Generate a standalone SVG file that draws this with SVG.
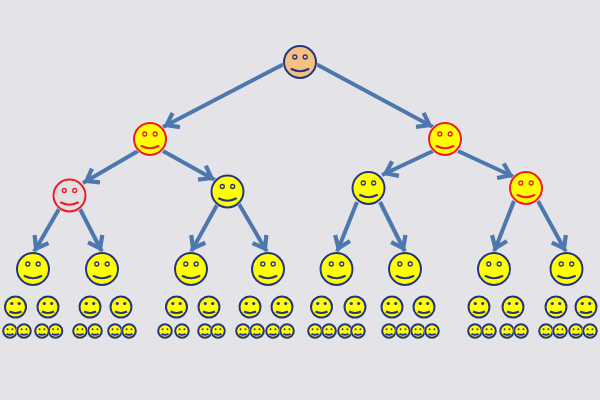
<svg xmlns="http://www.w3.org/2000/svg" width="600" height="400" viewBox="0 0 600 400">
<style>
.c{fill:none;stroke:#4c78ae;stroke-width:4}
.h{fill:#f0f0f3}
.f{fill:var(--f,#ffff00)}
.b{--s:#24367f}.r{--s:#ee1c25}
.g{--f:#e0e0e2}.o{--f:#f7c083}
.p{fill:none;stroke:var(--s);stroke-width:2}
.i{fill:none;stroke:var(--s);stroke-width:1.300}
.e{fill:var(--s)}
</style>
<defs>
<marker id="a" markerUnits="userSpaceOnUse" markerWidth="30" markerHeight="30" refX="23" refY="15" orient="auto"><path d="M8 7L19 15L8 23" fill="none" stroke="#4c78ae" stroke-width="4.200"/></marker>
<g id="face"><circle class="h" r="17.500"/><circle class="f" r="16"/><circle class="p" r="16"/><circle class="i" cx="-5.200" cy="-5" r="2"/><circle class="i" cx="5.200" cy="-5" r="2"/><path class="p" d="M-8.500 7Q0 11.500 8.500 7" stroke-linecap="round"/></g>
<g id="fs"><circle class="h" r="12"/><circle class="f" r="11"/><circle class="p" r="10.500"/><circle class="e" cx="-3.700" cy="-3.500" r="1.600"/><circle class="e" cx="3.700" cy="-3.500" r="1.600"/><path class="p" d="M-6 4.500Q0 7.500 6 4.500" stroke-width="1.300"/></g>
<g id="ft"><circle class="h" r="8"/><circle class="f" r="7"/><circle class="p" r="6.800" stroke-width="1.700"/><circle class="e" cx="-2.400" cy="-1.800" r="1"/><circle class="e" cx="2.400" cy="-1.800" r="1"/><path class="p" d="M-3.500 2.800Q0 4.800 3.500 2.800" stroke-width="1"/></g>
</defs>
<rect width="600" height="400" fill="#e4e4e8"/>
<g id="connectors" class="c">
<path d="M284 64L163 127" marker-end="url(#a)"/>
<path d="M316 64L433 127" marker-end="url(#a)"/>
<path d="M138 151L83 183" marker-end="url(#a)"/>
<path d="M163 151L215 180" marker-end="url(#a)"/>
<path d="M433 151L382 175" marker-end="url(#a)"/>
<path d="M458 151L514 177" marker-end="url(#a)"/>
<path d="M59 209L34 252" marker-end="url(#a)"/>
<path d="M80 209L102 252" marker-end="url(#a)"/>
<path d="M217 205L191 252" marker-end="url(#a)"/>
<path d="M239 204L267 252" marker-end="url(#a)"/>
<path d="M357 202L337 252" marker-end="url(#a)"/>
<path d="M380 202L405 252" marker-end="url(#a)"/>
<path d="M514 201L494 252" marker-end="url(#a)"/>
<path d="M538 201L566 252" marker-end="url(#a)"/>
</g>
<g id="root" class="b o"><use href="#face" x="300" y="62"/></g>
<g id="n1" class="r"><use href="#face" x="150" y="139"/></g>
<g id="n2" class="r"><use href="#face" x="445" y="139"/></g>
<g id="n3" class="r g"><use href="#face" x="69.500" y="195.500"/></g>
<g id="n4" class="b"><use href="#face" x="227.500" y="191.500"/></g>
<g id="n5" class="b"><use href="#face" x="368.500" y="188"/></g>
<g id="n6" class="r"><use href="#face" x="526" y="188"/></g>
<g id="l3" class="b">
<use href="#face" x="33" y="269"/><use href="#face" x="102" y="269"/><use href="#face" x="191" y="269"/><use href="#face" x="268" y="269"/><use href="#face" x="336.500" y="269"/><use href="#face" x="405" y="269"/><use href="#face" x="494" y="269"/><use href="#face" x="566.500" y="269"/>
</g>
<g id="l4" class="b">
<use href="#fs" x="15.500" y="307"/><use href="#fs" x="48" y="307"/><use href="#fs" x="90" y="307"/><use href="#fs" x="121" y="307"/><use href="#fs" x="176.500" y="307"/><use href="#fs" x="209" y="307"/><use href="#fs" x="250" y="307"/><use href="#fs" x="282" y="307"/><use href="#fs" x="321.500" y="307"/><use href="#fs" x="355" y="307"/><use href="#fs" x="392" y="307"/><use href="#fs" x="424" y="307"/><use href="#fs" x="479" y="307"/><use href="#fs" x="513" y="307"/><use href="#fs" x="556" y="307"/><use href="#fs" x="586" y="307"/>
</g>
<g id="l5" class="b">
<use href="#ft" x="10" y="331"/><use href="#ft" x="24" y="331"/><use href="#ft" x="42" y="331"/><use href="#ft" x="55.500" y="331"/><use href="#ft" x="80" y="331"/><use href="#ft" x="95" y="331"/><use href="#ft" x="115" y="331"/><use href="#ft" x="129" y="331"/><use href="#ft" x="165" y="331"/><use href="#ft" x="182" y="331"/><use href="#ft" x="205" y="331"/><use href="#ft" x="218" y="331"/><use href="#ft" x="243" y="331"/><use href="#ft" x="257" y="331"/><use href="#ft" x="273" y="331"/><use href="#ft" x="287" y="331"/><use href="#ft" x="315" y="331"/><use href="#ft" x="329" y="331"/><use href="#ft" x="345" y="331"/><use href="#ft" x="358" y="331"/><use href="#ft" x="389" y="331"/><use href="#ft" x="403" y="331"/><use href="#ft" x="418" y="331"/><use href="#ft" x="432" y="331"/><use href="#ft" x="475" y="331"/><use href="#ft" x="489" y="331"/><use href="#ft" x="507" y="331"/><use href="#ft" x="521" y="331"/><use href="#ft" x="546" y="331"/><use href="#ft" x="560" y="331"/><use href="#ft" x="576" y="331"/><use href="#ft" x="590" y="331"/>
</g>
</svg>
